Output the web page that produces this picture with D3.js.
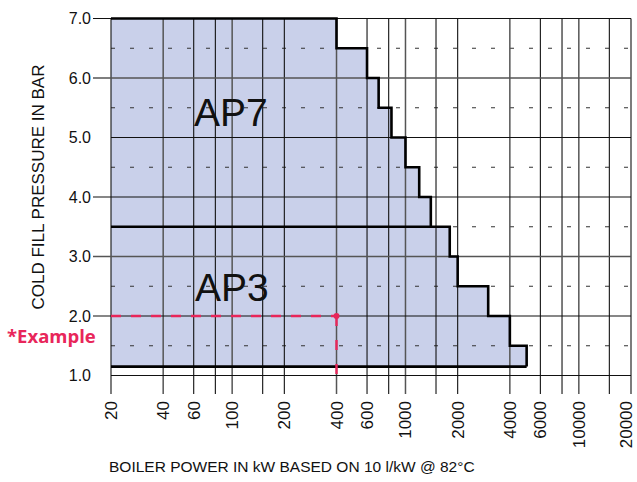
<!DOCTYPE html>
<html>
<head>
<meta charset="utf-8">
<script src="https://cdn.jsdelivr.net/npm/d3@7"></script>
<style>
  body { margin: 0; background: #fff; }
  svg { display: block; }
  text { font-family: "Liberation Sans", Arial, sans-serif; fill: #111; }
</style>
</head>
<body>
<svg id="chart" width="637" height="482"></svg>
<script>
// AP7 envelope: pressure held up to this boiler power
const ap7Power = [400, 600, 700, 830, 1000, 1200, 1400];
const ap7Pressure = [7.0, 6.5, 6.0, 5.5, 5.0, 4.5, 4.0];
const ap7Base = 3.5;

// AP3 envelope
const ap3Power = [1800, 2000, 3000, 4000, 5000];
const ap3Pressure = [3.5, 3.0, 2.5, 2.0, 1.5];
const ap3Base = 1.15;

const xTickLabels = [20, 40, 60, 100, 200, 400, 600, 1000, 2000, 4000, 6000, 10000, 20000];
const xGrid = [20, 40, 60, 80, 100, 150, 200, 400, 600, 800, 1000, 1500, 2000, 4000, 6000, 8000, 10000, 15000, 20000];
const yTickLabels = [1, 2, 3, 4, 5, 6, 7];
const yTickMarks = [2, 3, 4, 6, 7];
const yHalf = [1.5, 2.5, 3.5, 4.5, 5.5, 6.5];

const example = {power: 400, pressure: 2.0};

const svg = d3.select("#chart");

const x = d3.scaleLog().domain([20, 20000]).range([111, 631]);
const y = d3.scaleLinear().domain([1, 7]).range([375.5, 18.5]);

const fillCol = "#c9d0ea";

// step outline of one envelope
const envelope = (power, pressure, base) => {
    const pts = [[20, pressure[0]]];
    power.forEach((p, i) => {
        pts.push([p, pressure[i]]);
        pts.push([p, i < power.length - 1 ? pressure[i + 1] : base]);
    });
    pts.push([20, base]);
    return pts;
};

const line = d3.line().x(d => x(d[0])).y(d => y(d[1]));

const shapes = [
    envelope(ap7Power, ap7Pressure, ap7Base),
    envelope(ap3Power, ap3Pressure, ap3Base)
];

svg.append("g")
    .selectAll("path")
    .data(shapes)
    .join("path")
    .attr("d", d => line(d) + "Z")
    .attr("fill", fillCol)
    .attr("stroke", "none");

// dashed half-bar lines
svg.append("g")
    .selectAll("line")
    .data(yHalf)
    .join("line")
    .attr("x1", x(20)).attr("x2", x(20000))
    .attr("y1", d => y(d)).attr("y2", d => y(d))
    .attr("stroke", "#333")
    .attr("stroke-width", 1)
    .attr("stroke-dasharray", "4,15");

// vertical grid, running down past the axis as ticks
svg.append("g")
    .selectAll("line")
    .data(xGrid)
    .join("line")
    .attr("x1", d => x(d)).attr("x2", d => x(d))
    .attr("y1", y(7)).attr("y2", 394)
    .attr("stroke", (d, i) => i % 3 === 1 ? "#555" : "#111")
    .attr("stroke-width", (d, i) => i % 3 === 1 ? 1.5 : 1.1);

// solid horizontal grid
svg.append("g")
    .selectAll("line")
    .data(yTickLabels)
    .join("line")
    .attr("x1", d => yTickMarks.includes(d) ? 93 : x(20))
    .attr("x2", x(20000))
    .attr("y1", d => y(d)).attr("y2", d => y(d))
    .attr("stroke", d => d === 6 || d === 3 ? "#555" : "#111")
    .attr("stroke-width", d => d === 6 || d === 3 ? 1.5 : 1.2);

// envelope outlines
svg.append("g")
    .selectAll("path")
    .data(shapes)
    .join("path")
    .attr("d", d => line(d.slice(0, d.length - 1)) )
    .attr("fill", "none")
    .attr("stroke", "#000")
    .attr("stroke-width", 2.6)
    .attr("stroke-linejoin", "miter");

svg.append("line")
    .attr("x1", x(20)).attr("x2", x(ap3Power[ap3Power.length - 1]))
    .attr("y1", y(ap3Base)).attr("y2", y(ap3Base))
    .attr("stroke", "#000").attr("stroke-width", 2.6);

// example marker
const red = "#e8265a";
svg.append("line")
    .attr("x1", x(20)).attr("x2", x(example.power))
    .attr("y1", y(example.pressure)).attr("y2", y(example.pressure))
    .attr("stroke", red).attr("stroke-width", 2.4)
    .attr("stroke-dasharray", "10,10");
svg.append("line")
    .attr("x1", x(example.power)).attr("x2", x(example.power))
    .attr("y1", y(example.pressure)).attr("y2", y(1) + 2)
    .attr("stroke", red).attr("stroke-width", 2.4)
    .attr("stroke-dasharray", "10,14");
svg.append("circle")
    .attr("cx", x(example.power)).attr("cy", y(example.pressure))
    .attr("r", 3).attr("fill", red);

// y labels
svg.append("g")
    .selectAll("text")
    .data(yTickLabels)
    .join("text")
    .attr("x", 91)
    .attr("y", d => y(d) + 5.5)
    .attr("text-anchor", "end")
    .style("font-size", "16px")
    .text(d => d3.format(".1f")(d));

// x labels, rotated
svg.append("g")
    .selectAll("text")
    .data(xTickLabels)
    .join("text")
    .attr("transform", d => `translate(${Math.min(x(d) + 6, 632)},401) rotate(-90)`)
    .attr("text-anchor", "end")
    .style("font-size", "17px")
    .text(d => d);

svg.append("text")
    .attr("transform", "translate(44,187) rotate(-90)")
    .attr("text-anchor", "middle")
    .style("font-size", "17px")
    .text("COLD FILL PRESSURE IN BAR");

svg.append("text")
    .attr("x", 109).attr("y", 472)
    .style("font-size", "15.5px")
    .text("BOILER POWER IN kW BASED ON 10 l/kW @ 82°C");

svg.append("text")
    .attr("x", 7).attr("y", 343)
    .style("font-family", "'Open Sans', sans-serif")
    .style("font-weight", "bold")
    .style("font-size", "18.5px")
    .style("fill", red)
    .text("*Example");

svg.append("text")
    .attr("x", 194).attr("y", 126)
    .style("font-size", "39px")
    .text("AP7");

svg.append("text")
    .attr("x", 195).attr("y", 301)
    .style("font-size", "39px")
    .text("AP3");
</script>
</body>
</html>
